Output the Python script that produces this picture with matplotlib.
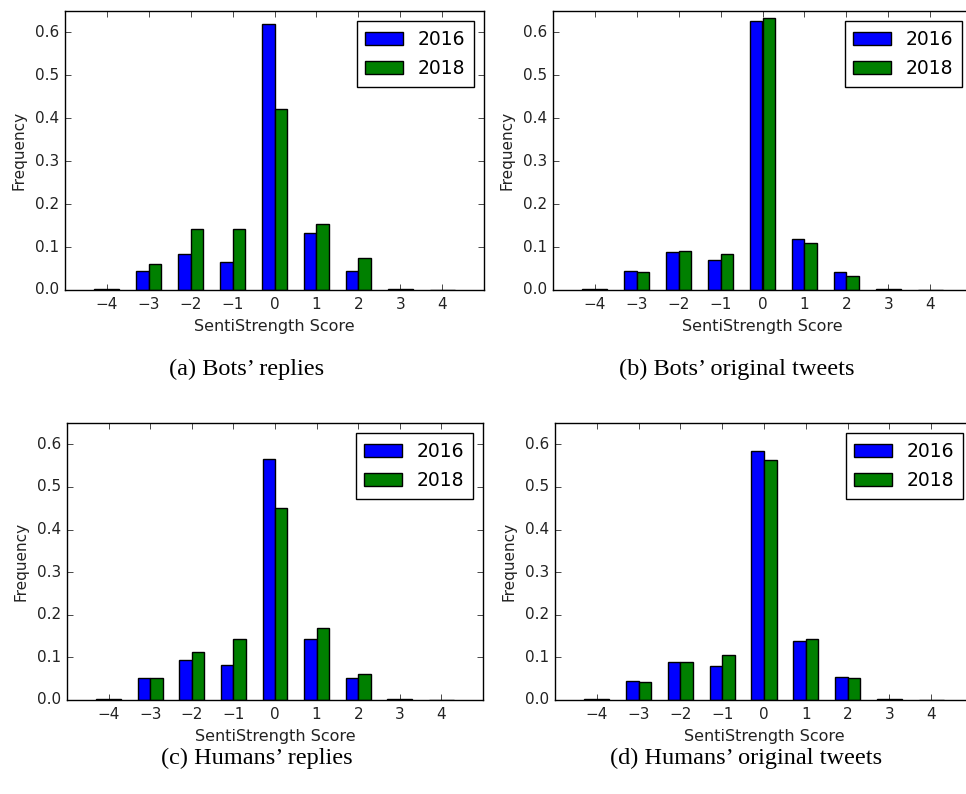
import numpy as np
import matplotlib
matplotlib.use('Agg')
import matplotlib.pyplot as plt

plt.style.use('classic')
plt.rcParams['figure.facecolor'] = 'white'
plt.rcParams['savefig.facecolor'] = 'white'
plt.rcParams['font.family'] = ['DejaVu Sans']

scores = [-4, -3, -2, -1, 0, 1, 2, 3, 4]

# SentiStrength score frequencies per panel
bots_replies_2016 = [0.002, 0.045, 0.083, 0.065, 0.620, 0.133, 0.045, 0.002, 0.0]
bots_replies_2018 = [0.002, 0.060, 0.141, 0.141, 0.421, 0.153, 0.074, 0.002, 0.0]
bots_tweets_2016 = [0.002, 0.045, 0.088, 0.071, 0.626, 0.118, 0.042, 0.002, 0.0]
bots_tweets_2018 = [0.002, 0.042, 0.091, 0.083, 0.634, 0.109, 0.033, 0.002, 0.0]
humans_replies_2016 = [0.002, 0.051, 0.095, 0.083, 0.566, 0.144, 0.051, 0.002, 0.0]
humans_replies_2018 = [0.002, 0.051, 0.112, 0.144, 0.450, 0.170, 0.062, 0.002, 0.0]
humans_tweets_2016 = [0.002, 0.045, 0.088, 0.080, 0.584, 0.139, 0.054, 0.002, 0.0]
humans_tweets_2018 = [0.002, 0.042, 0.088, 0.106, 0.564, 0.142, 0.051, 0.002, 0.0]

panels = [
    ('(a) Bots\u2019 replies', bots_replies_2016, bots_replies_2018),
    ('(b) Bots\u2019 original tweets', bots_tweets_2016, bots_tweets_2018),
    ('(c) Humans\u2019 replies', humans_replies_2016, humans_replies_2018),
    ('(d) Humans\u2019 original tweets', humans_tweets_2016, humans_tweets_2018),
]

W, H = 966, 794
fig = plt.figure(figsize=(W / 100, H / 100), dpi=100)

# axes boxes in pixels: left, top, width, height
boxes = [(65, 11, 419, 279), (553, 11, 419, 279),
         (67, 423, 416, 277), (555, 423, 418, 277)]
caption_pos = [(247, 369), (737, 369), (257, 758), (746, 758)]

width = 0.3
x = np.array(scores)
for (caption, v16, v18), (l, t, w, h), (cx, cy) in zip(panels, boxes, caption_pos):
    ax = fig.add_axes([l / W, 1 - (t + h) / H, w / W, h / H])
    ax.bar(x - width, v16, width, align='edge', color='b', edgecolor='k', linewidth=1, label='2016')
    ax.bar(x, v18, width, align='edge', color='g', edgecolor='k', linewidth=1, label='2018')
    ax.set_xlim(-5, 5)
    ax.set_ylim(0, 0.65)
    ax.set_xticks(scores)
    ax.set_yticks(np.arange(0, 0.61, 0.1))
    ax.tick_params(labelsize=11, direction='in', top=True, right=True, length=4,
                   labelcolor='#222222')
    ax.tick_params(axis='x', pad=5)
    ax.set_xlabel('SentiStrength Score', fontsize=11.5, labelpad=5, color='#222222')
    ax.set_ylabel('Frequency', fontsize=11, labelpad=6, color='#222222')
    ax.legend(loc='upper right', fontsize=13.5, fancybox=False, shadow=False,
              framealpha=1, handlelength=2.0, borderaxespad=0.55, numpoints=1,
              labelspacing=0.55, borderpad=0.45)
    fig.text(cx / W, 1 - cy / H, caption, ha='center', va='center',
             fontsize=17.5, family='Liberation Serif')

fig.savefig('out.png', dpi=100)
